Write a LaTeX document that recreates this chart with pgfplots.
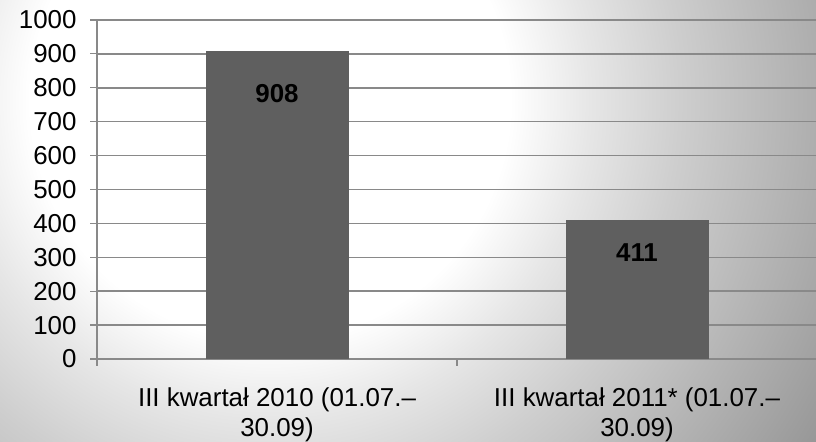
\documentclass[border=0pt]{standalone}
\usepackage{pgfplots}
\pgfplotsset{compat=1.18}
\usepackage{fontspec}
\setmainfont{Liberation Sans}
\definecolor{gridc}{HTML}{898989}
\definecolor{barc}{HTML}{5F5F5F}
\definecolor{bgA}{HTML}{E6E6E6}
\definecolor{bgB}{HTML}{CECECE}
\definecolor{bgC}{HTML}{B2B2B2}
\definecolor{bgD}{HTML}{969696}
\definecolor{bgE}{HTML}{8A8A8A}
\pgfdeclareradialshading{bgshade}{\pgfpoint{0bp}{0bp}}{color(0bp)=(white); color(240bp)=(white); color(320bp)=(bgA); color(410bp)=(bgB); color(530bp)=(bgC); color(650bp)=(bgD); color(720bp)=(bgE)}
\begin{document}
\begin{tikzpicture}
\useasboundingbox (0,0) rectangle (816bp,442bp);
\begin{scope}
\clip (0,0) rectangle (816bp,442bp);
\node[inner sep=0pt, outer sep=0pt] at (270bp,342bp) {\pgfuseshading{bgshade}};
\end{scope}
\begin{axis}[
  at={(97bp,83bp)}, anchor=south west,
  width=720bp, height=339bp, scale only axis,
  xmin=-0.5, xmax=1.5, ymin=0, ymax=1000,
  axis x line*=bottom, axis y line*=left,
  axis line style={gridc, line width=1.2bp, -},
  ytick={0,100,...,1000},
  ymajorgrids, grid style={gridc, line width=1.5bp},
  tick style={gridc, line width=1.2bp},
  tick align=outside, major tick length=7bp,
  xtick={-0.5,0.5,1.5}, xticklabels={},
  extra x ticks={0,1},
  extra x tick labels={{III kwartał 2010 (01.07.–\\30.09)},{III kwartał 2011* (01.07.–\\30.09)}},
  extra x tick style={major tick length=0pt},
  /pgf/number format/assume math mode=true,
  /pgf/number format/1000 sep={},
  ticklabel style={font=\fontsize{26}{30}\selectfont, black},
  y tick label style={xshift=-10bp},
  x tick label style={align=center, yshift=-25bp},
]
\addplot[ybar, bar width=143bp, fill=barc, draw=none,
  nodes near coords, point meta=y,
  nodes near coords style={anchor=north, inner sep=0pt, yshift=-33bp, font=\bfseries\fontsize{26}{30}\selectfont, black}]
  coordinates {(0,908)};
\addplot[ybar, bar width=143bp, fill=barc, draw=none,
  nodes near coords, point meta=y,
  nodes near coords style={anchor=north, inner sep=0pt, yshift=-24bp, font=\bfseries\fontsize{26}{30}\selectfont, black}]
  coordinates {(1,411)};
\end{axis}
\end{tikzpicture}
\end{document}
